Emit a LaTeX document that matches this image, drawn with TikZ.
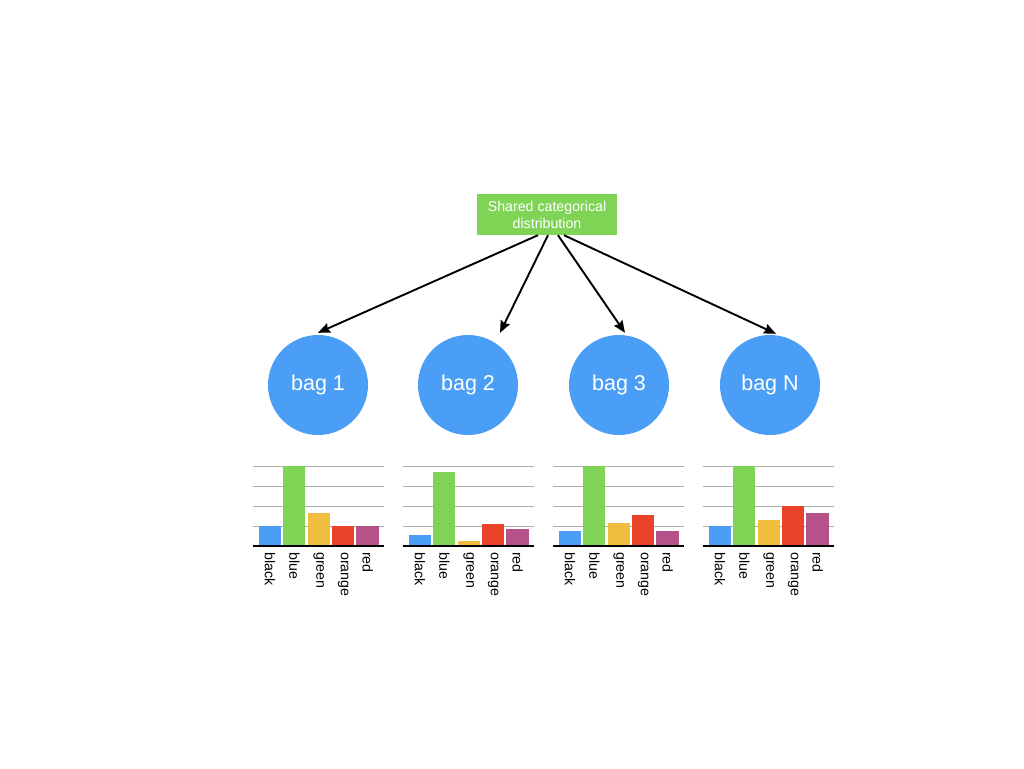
\documentclass[tikz,border=0pt]{standalone}
\usepackage{fontspec}
\setmainfont{Liberation Sans}
\usetikzlibrary{arrows.meta}

\definecolor{bagblue}{RGB}{74,158,245}
\definecolor{bargreen}{RGB}{128,212,85}
\definecolor{baryellow}{RGB}{239,190,62}
\definecolor{barred}{RGB}{233,67,42}
\definecolor{barpurple}{RGB}{181,82,138}

\tikzset{
  bag/.style={circle, fill=bagblue, minimum size=100pt, inner sep=0pt,
    text=white, font=\fontsize{21.5}{24}\selectfont},
  sharedbox/.style={rectangle, fill=bargreen, minimum width=140pt, minimum height=41pt,
    text=white, align=center, font=\fontsize{14.2}{17}\selectfont},
  arr/.style={line width=1.9pt, -{Stealth[length=12pt,width=10pt,inset=1.5pt]}},
  grid/.style={gray!65, line width=0.9pt},
  barlabel/.style={rotate=-90, anchor=west, inner sep=0pt, font=\fontsize{14.2}{16}\selectfont}
}

% one bar chart: shift, then the five heights (grid units)
\newcommand{\barchart}[6]{%
  \begin{scope}[xshift=#1]
    \foreach \g in {1,...,4} \draw[grid] (253,546-20*\g) -- (384,546-20*\g);
    \fill[bagblue]   (259,546) rectangle (281,546-20*#2);
    \fill[bargreen]  (283,546) rectangle (305,546-20*#3);
    \fill[baryellow] (308,546) rectangle (330,546-20*#4);
    \fill[barred]    (332,546) rectangle (354,546-20*#5);
    \fill[barpurple] (356,546) rectangle (379,546-20*#6);
    \draw[line width=1.2pt] (253,546) -- (384,546);
    \foreach \n [count=\k from 0] in {black,blue,green,orange,red}
      \node[barlabel] at (270+24.4*\k,552) {\n};
  \end{scope}}

\begin{document}
\begin{tikzpicture}[x=1pt, y=-1pt]
  \useasboundingbox[fill=white] (0,0) rectangle (1024,768);

  \node[sharedbox] (shared) at (547,214.5) {Shared categorical\\distribution};

  \node[bag] (bag1) at (318,385) {bag 1};
  \node[bag] (bag2) at (468,385) {bag 2};
  \node[bag] (bag3) at (619,385) {bag 3};
  \node[bag] (bagN) at (770,385) {bag N};

  \draw[arr] ([xshift=-9pt]shared.south) -- ([yshift=2pt]bag1.north);
  \draw[arr] ([xshift=1pt]shared.south) -- ([xshift=32pt,yshift=2pt]bag2.north);
  \draw[arr] ([xshift=11pt]shared.south) -- ([xshift=6pt,yshift=2pt]bag3.north);
  \draw[arr] ([xshift=17pt]shared.south) -- ([xshift=6pt,yshift=1pt]bagN.north);

  % histograms under each bag
  \barchart{0pt}{1}{4}{1.67}{1}{1}
  \barchart{150pt}{0.55}{3.7}{0.25}{1.1}{0.85}
  \barchart{300pt}{0.75}{4}{1.15}{1.55}{0.75}
  \barchart{450pt}{1}{4}{1.3}{2}{1.67}
\end{tikzpicture}
\end{document}
